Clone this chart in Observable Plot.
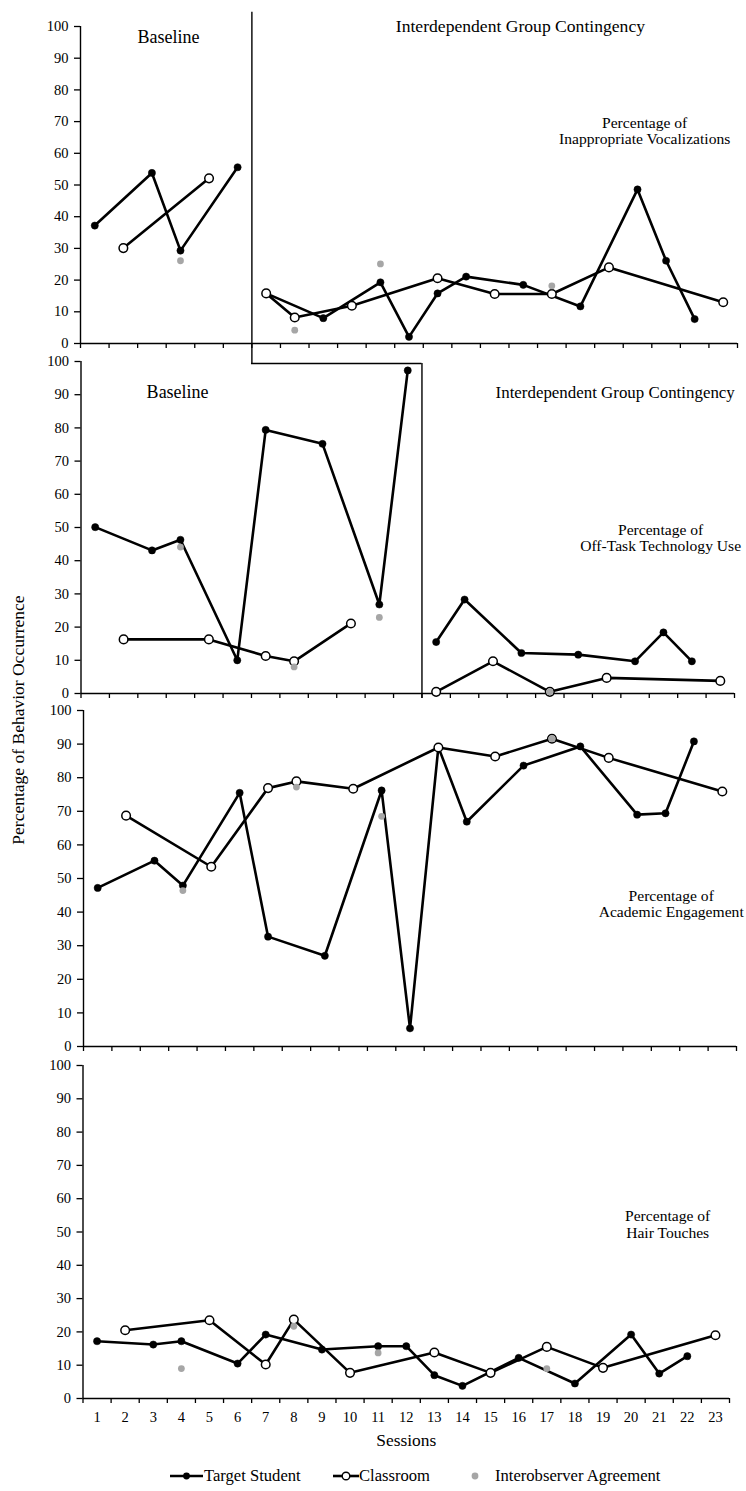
<!DOCTYPE html>
<html>
<head>
<meta charset="utf-8">
<script src="https://cdn.jsdelivr.net/npm/d3@7"></script>
<script src="https://cdn.jsdelivr.net/npm/@observablehq/plot@0.6"></script>
<style>
  body { margin: 0; background: #fff; }
  #chart { position: relative; width: 746px; height: 1491px; font-family: "Liberation Serif", "Times New Roman", serif; color: #000; overflow: hidden; }
  #chart svg.panel { position: absolute; left: 0; }
  .ylabel { position: absolute; left: 18px; top: 720px; transform: translate(-50%, -50%) rotate(-90deg); white-space: nowrap; font-size: 17.5px; }
  .legend { position: absolute; top: 1465px; left: 0; width: 746px; height: 22px; font-size: 16.6px; }
  .legend .item { position: absolute; top: 0; height: 22px; display: flex; align-items: center; white-space: nowrap; }
</style>
</head>
<body>
<div id="chart"></div>
<script>
// ---------- data ----------
const sessions = [1, 2, 3, 4, 5, 6, 7, 8, 9, 10, 11, 12, 13, 14, 15, 16, 17, 18, 19, 20, 21, 22, 23];
const sessionBounds = [0.5, 1.5, 2.5, 3.5, 4.5, 5.5, 6.5, 7.5, 8.5, 9.5, 10.5, 11.5, 12.5, 13.5, 14.5, 15.5, 16.5, 17.5, 18.5, 19.5, 20.5, 21.5, 22.5, 23.5];
const yTicks = [0, 10, 20, 30, 40, 50, 60, 70, 80, 90, 100];

const seriesNames = ["Target Student", "Classroom", "Interobserver Agreement"];
const phaseNames = ["Baseline", "Interdependent Group Contingency"];
const panelLabels = [
  "Percentage of\nInappropriate Vocalizations",
  "Percentage of\nOff-Task Technology Use",
  "Percentage of\nAcademic Engagement",
  "Percentage of\nHair Touches"
];
const yAxisLabel = "Percentage of Behavior Occurrence";
const xAxisLabel = "Sessions";

// values by session 1..23 (null = no observation)
const vocalTarget    = [37.2, null, 53.8, 29.3, null, 55.6, 15.8, null, 8.0, null, 19.3, 2.1, 15.8, 21.1, null, 18.5, null, 11.7, null, 48.6, 26.1, 7.7, null];
const vocalClassroom = [null, 30.1, null, null, 52.1, null, 15.8, 8.2, null, 11.9, null, null, 20.6, null, 15.6, null, 15.6, null, 24.0, null, null, null, 13.0];
const vocalIOA       = [null, null, null, 26.1, null, null, null, 4.2, null, null, 25.1, null, null, null, null, null, 18.2, null, null, null, null, null, null];

const techTarget     = [50.1, null, 43.1, 46.3, null, 10.0, 79.4, null, 75.2, null, 26.8, 97.3, 15.5, 28.3, null, 12.2, null, 11.7, null, 9.7, 18.4, 9.7, null];
const techClassroom  = [null, 16.3, null, null, 16.3, null, 11.3, 9.7, null, 21.1, null, null, 0.5, null, 9.7, null, 0.5, null, 4.7, null, null, null, 3.8];
const techIOA        = [null, null, null, 44.1, null, null, null, 8.0, null, null, 22.9, null, null, null, null, null, 0.5, null, null, null, null, null, null];

const engageTarget    = [47.2, null, 55.3, 47.9, null, 75.5, 32.7, null, 27.0, null, 76.2, 5.4, 89.1, 66.9, null, 83.6, null, 89.3, null, 69.0, 69.4, 90.8, null];
const engageClassroom = [null, 68.7, null, null, 53.5, null, 76.9, 78.9, null, 76.7, null, null, 89.0, null, 86.3, null, 91.6, null, 85.9, null, null, null, 75.9];
const engageIOA       = [null, null, null, 46.4, null, null, null, 77.2, null, null, 68.5, null, null, null, null, null, 91.6, null, null, null, null, null, null];

const hairTarget     = [17.2, null, 16.2, 17.2, null, 10.5, 19.2, null, 14.7, null, 15.7, 15.7, 7.0, 3.8, null, 12.2, null, 4.5, null, 19.2, 7.5, 12.7, null];
const hairClassroom  = [null, 20.5, null, null, 23.5, null, 10.2, 23.7, null, 7.7, null, null, 13.8, null, 7.7, null, 15.5, null, 9.2, null, null, null, 19.0];
const hairIOA        = [null, null, null, 9.0, null, null, null, 21.7, null, null, 13.7, null, null, null, null, null, 9.0, null, null, null, null, null, null];

// phase change (between sessions) per panel; null = no phase line drawn
const phaseChanges = [6.5, 12.5, null, null];

// ---------- helpers ----------
const FONT = '"Liberation Serif", "Times New Roman", serif';
function rows(values, brk) {
  return sessions
    .map((s, i) => ({s, v: values[i], phase: brk != null && s > brk ? "B" : "A"}))
    .filter(d => d.v != null);
}

const panels = [
  {target: vocalTarget, classroom: vocalClassroom, ioa: vocalIOA, label: panelLabels[0], brk: phaseChanges[0],
   top: 0, height: 353, mt: 26, mb: 10, ml: 80, mr: 9,
   labelPos: [20.25, 67.1],
   phaseText: [{x: 3.58, y: 96.5, size: 18, t: phaseNames[0]}, {x: 15.9, y: 100.2, size: 17.6, t: phaseNames[1]}],
   phaseRules: "p1"},
  {target: techTarget, classroom: techClassroom, ioa: techIOA, label: panelLabels[1], brk: phaseChanges[1],
   top: 351, height: 352, mt: 10, mb: 10, ml: 80.5, mr: 12,
   labelPos: [20.9, 46.9],
   phaseText: [{x: 3.9, y: 90.7, size: 18, t: phaseNames[0]}, {x: 19.3, y: 90.7, size: 16.9, t: phaseNames[1]}],
   phaseRules: "p2"},
  {target: engageTarget, classroom: engageClassroom, ioa: engageIOA, label: panelLabels[2], brk: phaseChanges[2],
   top: 700, height: 356, mt: 10, mb: 10, ml: 83, mr: 10,
   labelPos: [21.2, 42.5], phaseText: [], phaseRules: null},
  {target: hairTarget, classroom: hairClassroom, ioa: hairIOA, label: panelLabels[3], brk: phaseChanges[3],
   top: 1055, height: 393, mt: 10, mb: 50, ml: 82.5, mr: 17,
   labelPos: [21.3, 52.4], phaseText: [], phaseRules: null, bottom: true}
];

const chart = document.getElementById("chart");

panels.forEach((p, idx) => {
  const t = rows(p.target, p.brk);
  const c = rows(p.classroom, p.brk);
  const a = rows(p.ioa, null);
  const marks = [];

  // phase change lines
  if (p.phaseRules === "p1") {
    marks.push(Plot.ruleX([p.brk], {y1: () => -6.4, y2: () => 104.5, strokeWidth: 1.4}));
  } else if (p.phaseRules === "p2") {
    marks.push(Plot.ruleY([99.4], {x1: () => phaseChanges[0], x2: () => p.brk, strokeWidth: 1.4}));
    marks.push(Plot.ruleX([p.brk], {y1: () => -1.5, y2: () => 99.4, strokeWidth: 1.4}));
  }

  // axes
  marks.push(
    Plot.ruleX([sessionBounds[0]], {y1: () => 0, y2: () => 100, strokeWidth: 1.4}),
    Plot.ruleY([0], {x1: () => sessionBounds[0], x2: () => sessionBounds[sessionBounds.length - 1], strokeWidth: 1.4}),
    Plot.axisY({ticks: yTicks, tickSize: 6, tickPadding: 6, fontSize: 14.5, strokeWidth: 1.3, label: null}),
    Plot.axisX({ticks: sessionBounds, tickSize: 5, tickFormat: () => "", strokeWidth: 1.3, label: null})
  );
  if (p.bottom) {
    marks.push(
      Plot.axisX({ticks: sessions, tickSize: 0, tickPadding: 13, fontSize: 14.5, label: null}),
      Plot.text([xAxisLabel], {x: () => 12, y: () => 0, dy: 42, text: d => d, fontSize: 17.4})
    );
  }

  // data
  marks.push(
    Plot.line(t, {x: "s", y: "v", z: "phase", stroke: "black", strokeWidth: 2.6, strokeLinejoin: "round"}),
    Plot.line(c, {x: "s", y: "v", z: "phase", stroke: "black", strokeWidth: 2.6, strokeLinejoin: "round"}),
    Plot.dot(t, {x: "s", y: "v", r: 3.6, fill: "black", stroke: "black", strokeWidth: 0.5}),
    Plot.dot(c, {x: "s", y: "v", r: 4.3, fill: "white", stroke: "black", strokeWidth: 1.5}),
    Plot.dot(a, {x: "s", y: "v", r: 3.4, fill: "#a6a6a6"})
  );

  // texts
  p.phaseText.forEach(pt => {
    marks.push(Plot.text([pt.t], {x: () => pt.x, y: () => pt.y, text: d => d, fontSize: pt.size}));
  });
  marks.push(Plot.text([p.label], {x: () => p.labelPos[0], y: () => p.labelPos[1], text: d => d, fontSize: 15.6, lineHeight: 1.06}));

  const svg = Plot.plot({
    width: 746,
    height: p.height,
    marginTop: p.mt,
    marginBottom: p.mb,
    marginLeft: p.ml,
    marginRight: p.mr,
    x: {type: "linear", domain: [sessionBounds[0], sessionBounds[sessionBounds.length - 1]], label: null},
    y: {type: "linear", domain: [0, 100], label: null},
    style: {fontFamily: FONT, fontSize: "14.5px", background: "transparent", overflow: "visible", color: "black"},
    marks
  });
  svg.classList.add("panel");
  svg.style.top = p.top + "px";
  svg.style.position = "absolute";
  svg.style.left = "0px";
  svg.style.maxWidth = "none";
  chart.appendChild(svg);
});

// y axis title
const yl = document.createElement("div");
yl.className = "ylabel";
yl.textContent = yAxisLabel;
chart.appendChild(yl);

// legend
const legend = document.createElement("div");
legend.className = "legend";
legend.innerHTML = `
  <div class="item" style="left:170px">
    <svg width="33" height="22"><line x1="0" y1="11" x2="33" y2="11" stroke="black" stroke-width="2.6"/><circle cx="16.5" cy="11" r="3.4" fill="black"/></svg>
    <span style="margin-left:1px">${seriesNames[0]}</span>
  </div>
  <div class="item" style="left:333px">
    <svg width="26" height="22"><line x1="0" y1="11" x2="26" y2="11" stroke="black" stroke-width="2.6"/><circle cx="13" cy="11" r="3.8" fill="white" stroke="black" stroke-width="1.4"/></svg>
    <span>${seriesNames[1]}</span>
  </div>
  <div class="item" style="left:470px">
    <svg width="12" height="22"><circle cx="5" cy="11" r="3.4" fill="#a6a6a6"/></svg>
    <span style="margin-left:13px">${seriesNames[2]}</span>
  </div>`;
chart.appendChild(legend);
</script>
</body>
</html>
